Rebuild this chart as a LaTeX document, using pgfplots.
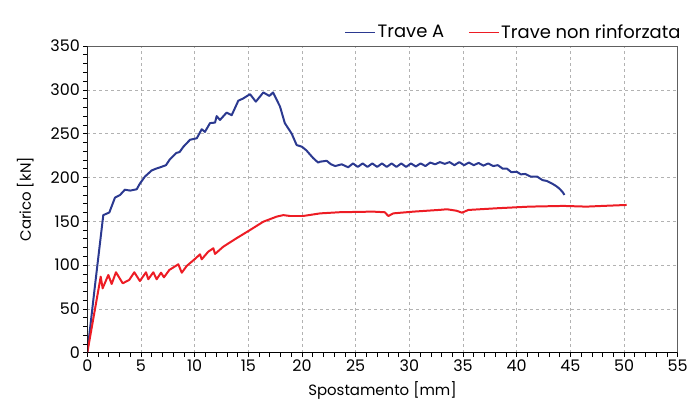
\documentclass[border=0pt]{standalone}
\usepackage{fontspec}
\setmainfont{Poppins}
\usepackage{pgfplots}
\pgfplotsset{compat=1.18}
\definecolor{traveA}{HTML}{2B3990}
\definecolor{traveN}{HTML}{ED1C24}

\begin{document}
\begin{tikzpicture}
\useasboundingbox (-87.3bp,-62.3bp) rectangle (603.7bp,352.7bp);
\begin{axis}[
    at={(0,0)}, anchor=south west,
    scale only axis, width=590.4bp, height=306.7bp,
    xmin=0, xmax=55, ymin=0, ymax=350,
    xtick={0,5,...,55}, ytick={0,50,...,350},
    minor x tick num=4, minor y tick num=4,
    tick pos=left, tick align=outside,
    major tick length=4bp, minor tick length=4bp,
    tick style={black, line width=0.6pt},
    grid=major, major grid style={gray!60, dashed, line width=0.6pt},
    axis line style={draw=gray!75!black, line width=0.9pt},
    tick label style={font=\fontsize{16}{17}\selectfont},
    label style={font=\fontsize{15}{16}\selectfont},
    xlabel shift=3bp, ylabel shift=10bp,
    /pgf/number format/assume math mode=true,
    xlabel={Spostamento [mm]}, ylabel={Carico [kN]},
    legend style={draw=none, fill=none, at={(1,1)}, anchor=south east,
        xshift=8bp, yshift=2bp, legend columns=2,
        font=\fontsize{18}{19}\selectfont,
        /tikz/every even column/.append style={column sep=22bp}},
]
\addplot[traveA, line width=2pt, line join=round,
    legend image code/.code={\draw[traveA, line width=1pt] (0bp,0bp) -- (30bp,0bp);}] coordinates {
(0,0) (0.7,75) (1.49,157) (2.05,160) (2.58,177) (3.05,180) (3.5,186) (4.0,185)
(4.6,186.5) (4.9,193) (5.37,201) (6.0,208) (6.4,210) (6.8,211.6) (7.33,214)
(7.7,220.8) (8.3,228) (8.6,229) (8.95,235) (9.57,243) (10.2,244.7) (10.66,255)
(10.96,252) (11.43,262) (11.9,262.6) (12.05,270) (12.36,265.6) (12.98,274)
(13.45,271) (14.07,287.6) (14.5,290) (15.16,295) (15.7,286.5) (16.4,297)
(16.96,293) (17.3,297) (17.95,281) (18.4,262) (19.04,250) (19.5,237) (20.0,235)
(20.4,231) (21.05,222) (21.5,217) (21.7,218) (22.3,219) (22.7,215) (23.1,213)
(23.7,215) (24.3,211.6) (24.75,216) (25.2,212) (25.65,216) (26.1,212)
(26.55,216) (27.0,212) (27.45,216) (27.9,212) (28.35,216) (28.8,212)
(29.25,216) (29.7,212) (30.15,216) (30.6,212.5) (31.05,216) (31.5,213)
(31.95,217) (32.4,215) (32.85,217.5) (33.3,215.5) (33.75,217.5) (34.2,214)
(34.65,217.5) (35.1,214) (35.55,217) (36.0,214) (36.45,216.5) (36.9,213.5)
(37.35,216) (37.8,213) (38.25,214) (38.7,210) (39.1,210) (39.5,206)
(40.0,206.5) (40.4,203.5) (40.8,204) (41.3,201) (41.9,201) (42.4,197)
(42.8,196) (43.3,193) (43.7,190) (44.0,187) (44.3,183) (44.45,180)
};
\addlegendentry{Trave A}
\addplot[traveN, line width=2pt, line join=round,
    legend image code/.code={\draw[traveN, line width=1pt] (0bp,0bp) -- (30bp,0bp);}] coordinates {
(0,0) (1.25,86.8) (1.43,73.5) (1.96,88.7) (2.27,78.4) (2.67,91.8) (3.3,79.2)
(3.9,83) (4.38,91.8) (4.9,81.8) (5.47,91.8) (5.68,83.8) (6.15,91.8) (6.46,83.8)
(6.87,91.3) (7.14,86) (7.64,94.4) (8.48,100.9) (8.8,91.3) (9.26,99) (10.03,107)
(10.5,112.3) (10.66,106.6) (11.27,115.3) (11.74,119.2) (11.9,112.7) (12.67,121)
(13.9,130.6) (15.16,140) (16.4,149.5) (17.64,155.3) (18.26,157) (18.9,156)
(20.1,156) (21.7,159) (23.5,160.3) (26.6,161) (27.7,160.3) (28.05,156)
(28.5,159) (30.4,161) (32.85,163) (33.5,163.7) (34.4,162) (34.9,159.8)
(35.5,162.9) (38.1,164.8) (41.2,166.7) (44.35,167.5) (46.5,166.7) (48,167.5)
(50.25,168.6)
};
\addlegendentry{Trave non rinforzata}
\draw[black, line width=0.9pt] (rel axis cs:0,1) -- (rel axis cs:0,0) -- (rel axis cs:1,0);
\end{axis}
\end{tikzpicture}
\end{document}
